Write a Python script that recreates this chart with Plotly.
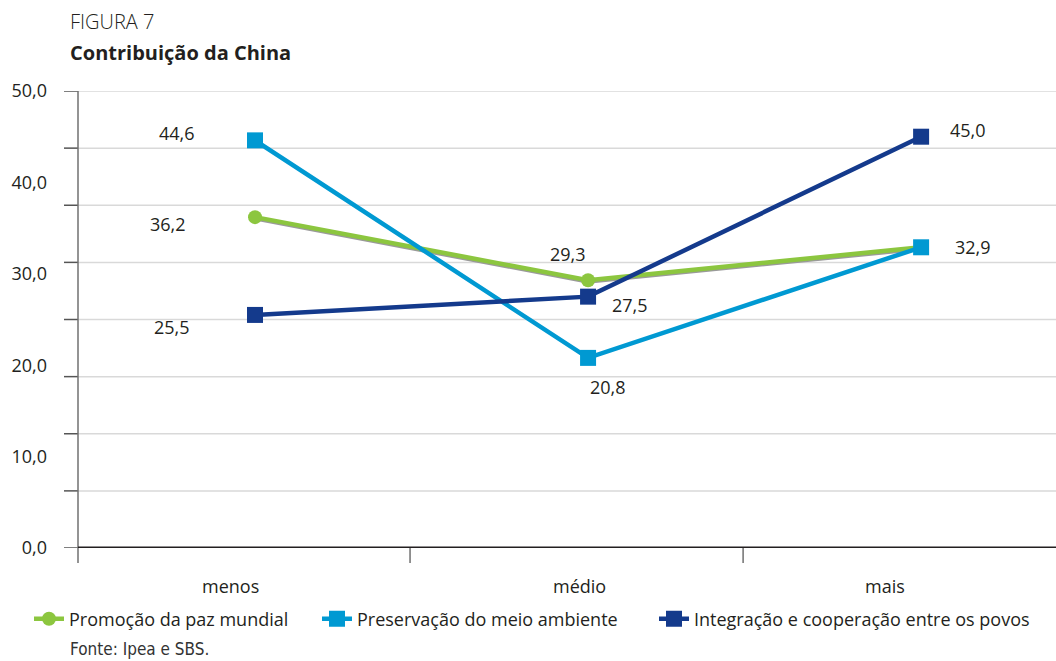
import plotly.graph_objects as go

categories = ["menos", "médio", "mais"]
series_names = ["Promoção da paz mundial", "Preservação do meio ambiente",
                "Integração e cooperação entre os povos"]
paz = [36.2, 29.3, 32.9]
meio = [44.6, 20.8, 32.9]
integ = [25.5, 27.5, 45.0]
y_tick_vals = [0, 10, 20, 30, 40, 50]
y_tick_text = ["0,0", "10,0", "20,0", "30,0", "40,0", "50,0"]

# label display flags per series (green "mais" label coincides with light-blue one)
show_labels = [[True, True, False], [True, True, True], [True, True, True]]
# label pixel offsets (dx, dy) relative to each point
label_offsets = [
    [(-87, -7), (-20, 26), (0, 0)],
    [(-78, 7), (20, -29), (52, 0)],
    [(-83, -12), (42, -8), (47, 7)],
]

colors = ["#8cc63f", "#0099d2", "#143a8c"]
symbols = ["circle", "square", "square"]
msizes = [14, 16, 16]
legend_x_px = [38, 326, 663]

FONT = "Open Sans"
TXT = "#231f20"
FS = 18

x = list(range(len(categories)))
fig = go.Figure()

# shadow of green line (on the lower, shifted axis so it is drawn beneath)
fig.add_trace(go.Scatter(x=x, y=paz, mode="lines", line=dict(color="#9a9a9a", width=4.5),
                         yaxis="y", showlegend=False, hoverinfo="skip"))

legend_ids = ["legend", "legend2", "legend3"]
for name, vals, c, s, ms, lg in zip(series_names, [paz, meio, integ], colors, symbols, msizes, legend_ids):
    fig.add_trace(go.Scatter(x=x, y=vals, name=name, mode="lines+markers", yaxis="y2",
                             line=dict(color=c, width=4.5),
                             marker=dict(symbol=s, size=ms, color=c), legend=lg))

def fmt(v):
    return f"{v:.1f}".replace(".", ",")

annotations = []
for vals, flags, offs in zip([paz, meio, integ], show_labels, label_offsets):
    for i, (v, f, (dx, dy)) in enumerate(zip(vals, flags, offs)):
        if not f:
            continue
        annotations.append(dict(x=i, y=v, xref="x", yref="y2", text=fmt(v), showarrow=False,
                                xshift=dx, yshift=dy, font=dict(family=FONT, size=FS, color=TXT)))

# category labels
cat_pos = [-0.075, 0.973, 1.892]
for p, c in zip(cat_pos, categories):
    annotations.append(dict(x=p, y=0, xref="x", yref="y2", text=c, showarrow=False,
                            yshift=-38, font=dict(family=FONT, size=FS, color=TXT)))

# titles and source
annotations.append(dict(x=-0.0102, y=1.151, xref="paper", yref="paper", text="FIGURA 7",
                        showarrow=False, xanchor="left", yanchor="middle",
                        font=dict(family=FONT, size=20, color=TXT, weight=300)))
annotations.append(dict(x=-0.0102, y=1.085, xref="paper", yref="paper",
                        text="<b>Contribuição da China</b>",
                        showarrow=False, xanchor="left", yanchor="middle",
                        font=dict(family=FONT, size=20, color=TXT)))
annotations.append(dict(x=-0.0102, y=-0.222, xref="paper", yref="paper",
                        text="Fonte: Ipea e SBS.",
                        showarrow=False, xanchor="left", yanchor="middle",
                        font=dict(family="Liberation Sans Narrow, DejaVu Sans Condensed, sans-serif",
                                  size=17, color="#333333")))

shapes = []
n_grid = 8
for k in range(1, n_grid + 1):
    gv = 50 * k / n_grid
    shapes.append(dict(type="line", xref="paper", yref="y2", x0=0, x1=1, y0=gv, y1=gv,
                       line=dict(color="#d9d9d9", width=1.5), layer="below"))
for k in range(0, n_grid + 1):
    gv = 50 * k / n_grid
    shapes.append(dict(type="line", xref="paper", yref="y2", x0=-14 / 978, x1=0, y0=gv, y1=gv,
                       line=dict(color="#555555", width=1.5)))
# y axis line
shapes.append(dict(type="line", xref="paper", yref="paper", x0=0, x1=0, y0=-15 / 457, y1=1,
                   line=dict(color="#707070", width=1.5)))
# x axis line
shapes.append(dict(type="line", xref="paper", yref="y2", x0=0, x1=1, y0=0, y1=0,
                   line=dict(color="#231f20", width=3)))
# category boundary ticks
for b in [0.4655, 1.4655]:
    shapes.append(dict(type="line", xref="x", yref="paper", x0=b, x1=b, y0=-15 / 457, y1=0,
                       line=dict(color="#707070", width=1.5)))

def legend_cfg(px):
    return dict(orientation="h", xref="container", yref="container", x=(px - 9) / 1056,
                y=(661 - 619) / 661, xanchor="left", yanchor="middle",
                font=dict(family=FONT, size=FS, color=TXT), bgcolor="rgba(0,0,0,0)",
                itemwidth=30)

fig.update_layout(
    width=1056, height=661,
    margin=dict(l=78, r=0, t=91, b=113),
    paper_bgcolor="white", plot_bgcolor="white",
    xaxis=dict(range=[-0.5315, 2.405], showgrid=False, zeroline=False, showticklabels=False,
               showline=False, ticks=""),
    yaxis=dict(range=[0.14, 50.14], visible=False, showgrid=False, zeroline=False),
    yaxis2=dict(range=[0, 50], overlaying="y", side="left", tickvals=y_tick_vals,
                ticktext=y_tick_text, showgrid=False, zeroline=False, showline=False,
                ticks="", ticklabelstandoff=30,
                tickfont=dict(family=FONT, size=FS, color=TXT)),
    showlegend=True,
    legend=legend_cfg(legend_x_px[0]),
    legend2=legend_cfg(legend_x_px[1]),
    legend3=legend_cfg(legend_x_px[2]),
    annotations=annotations,
    shapes=shapes,
)

fig.write_html("out.html")
